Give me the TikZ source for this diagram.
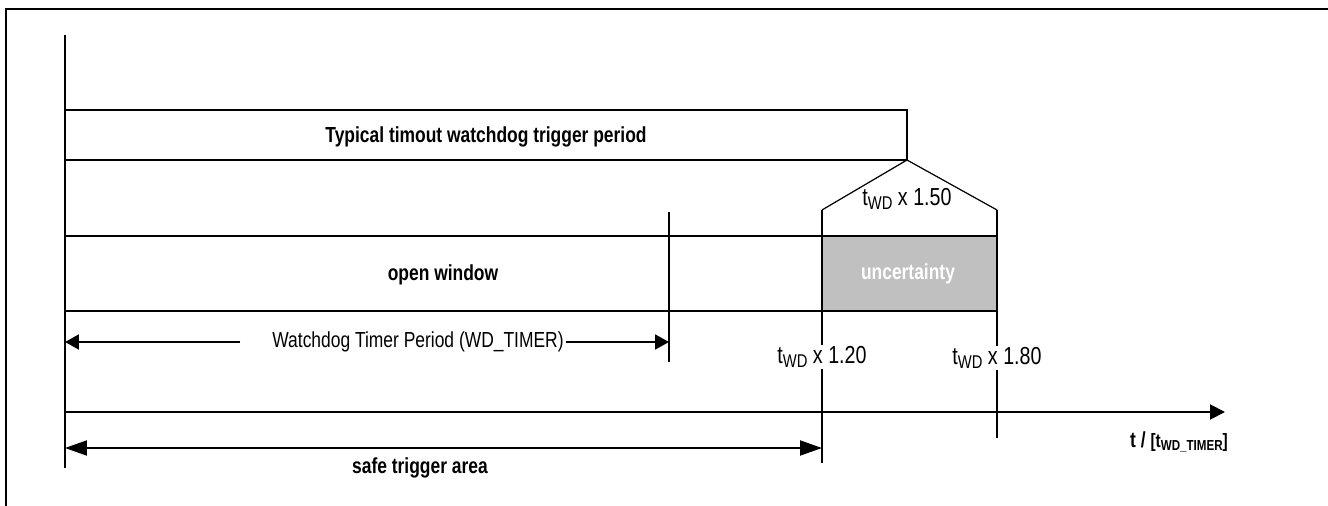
\documentclass[tikz,border=0pt]{standalone}
\usepackage{graphicx}
\usepackage{fontspec}
\setmainfont{Liberation Sans}[FakeStretch=0.8]
\usepackage{xcolor}
\usetikzlibrary{arrows.meta}
\definecolor{uncgray}{RGB}{192,192,192}
\newcommand{\wdsub}[1]{\raisebox{-0.3ex}{\scalebox{0.75}{#1}}}

\begin{document}
\begin{tikzpicture}[x=0.02cm, y=-0.02cm,
    thick line/.style={line width=1.1pt},
    thin line/.style={line width=0.7pt},
    lbl/.style={font=\fontsize{12.4}{14}\selectfont, inner sep=1pt},
    bold lbl/.style={font=\fontsize{12.4}{14}\selectfont\bfseries, inner sep=1pt},
    mark lbl/.style={font=\fontsize{14}{16}\selectfont, inner sep=1pt}]
    \useasboundingbox (0,0) rectangle (1328,506);

    % Frame
    \draw[thin line] (1328,9) -- (6,9) -- (6,506);

    % Axes
    \coordinate (top) at (65,35);
    \coordinate (o) at (65,412);
    \coordinate (obot) at (65,468);
    \coordinate (tend) at (1225,412);
    \draw[thick line] (top) -- (o);
    \draw[thin line] (o) -- (obot);
    \draw[thick line, -{Triangle[length=0.3cm, width=0.3cm]}] (o) -- (tend);
    \node[bold lbl] (tlbl) at (1179,442) {t / {\fontsize{11}{13}\selectfont[t\wdsub{WD\_TIMER}]}};

    % Typical timeout bar
    \coordinate (p0) at (65,110);
    \coordinate (p1) at (907,110);
    \coordinate (p2) at (907,160);
    \coordinate (p3) at (65,160);
    \draw[thick line] (p0) -- (p1) -- (p2) -- (p3);
    \node[bold lbl] (typ) at (486,137) {Typical timout watchdog trigger period};

    % Spread around x 1.50
    \coordinate (lo) at (822,210);
    \coordinate (hi) at (997,210);
    \coordinate (lobot) at (822,463);
    \coordinate (hibot) at (997,438);
    \draw[thin line] (lo) -- (p2) -- (hi);
    \draw[thin line] (lo) -- (lobot);
    \draw[thin line] (hi) -- (hibot);
    \node[mark lbl] (m150) at (907,199) {t\wdsub{WD} x 1.50};

    % Open window and uncertainty
    \draw[thick line] (65,236) -- (822,236);
    \draw[thick line] (65,311) -- (822,311);
    \draw[thick line, fill=uncgray] (822,236) rectangle (997,311);
    \node[bold lbl] (open) at (443,275) {open window};
    \node[bold lbl, text=white] (unc) at (908,274) {uncertainty};

    % Watchdog timer period
    \coordinate (wdt) at (669,212);
    \coordinate (wdb) at (669,362);
    \coordinate (wdl) at (65,342);
    \coordinate (wdr) at (669,342);
    \draw[thin line] (wdt) -- (wdb);
    \node[lbl] (wdlbl) at (418,342) {Watchdog Timer Period (WD\_TIMER)};
    \draw[thick line, -{Triangle[length=0.28cm, width=0.3cm]}] ([xshift=-0.6cm]wdlbl.west) -- (wdl);
    \draw[thick line, -{Triangle[length=0.28cm, width=0.3cm]}] (wdlbl.east) -- (wdr);

    % Limits
    \node[mark lbl, fill=white] (m120) at (822,357) {t\wdsub{WD} x 1.20};
    \node[mark lbl, fill=white] (m180) at (997,358) {t\wdsub{WD} x 1.80};

    % Safe trigger area
    \coordinate (s0) at (65,448);
    \coordinate (s1) at (822,448);
    \draw[thick line, {Triangle[length=0.44cm, width=0.3cm]}-{Triangle[length=0.44cm, width=0.3cm]}] (s0) -- (s1);
    \node[bold lbl] (safe) at (420,468) {safe trigger area};
\end{tikzpicture}
\end{document}
